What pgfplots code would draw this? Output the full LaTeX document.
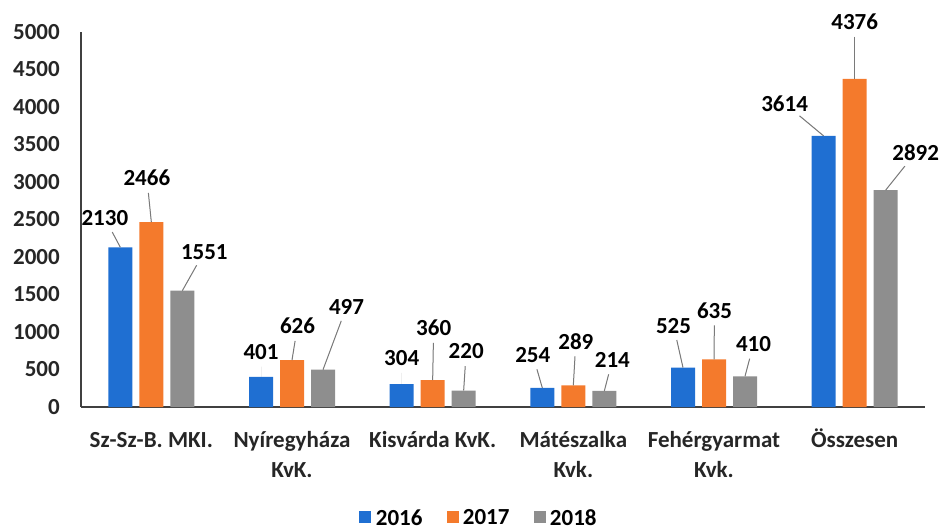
\documentclass[border=0pt]{standalone}
\usepackage{fontspec}
\setmainfont{Carlito}
\usepackage{pgfplots}
\pgfplotsset{compat=1.18}
\usepackage{pgfplotstable}
\definecolor{cblue}{HTML}{1F6FD2}
\definecolor{corange}{HTML}{F47A2C}
\definecolor{cgray}{HTML}{8E8E8E}
\definecolor{cline}{HTML}{7A7A7A}
\definecolor{caxis}{HTML}{404040}
\newcommand\lbl{\fontsize{23}{30}\selectfont\bfseries}

\pgfplotstableread{
x y ang dist ln
0 2130 118.1 32.9 1
1 401 90 25 0
2 304 90 26 0
3 254 106.1 34.3 1
4 525 102.7 43.1 1
5 3614 140.2 50.8 1
}\dataA
\pgfplotstableread{
x y ang dist ln
0 2466 95.8 44.2 1
1 626 80.8 34.4 1
2 360 88.9 52.0 1
3 289 86.7 44.1 1
4 635 89.4 49.0 1
5 4376 90 57 1
}\dataB
\pgfplotstableread{
x y ang dist ln
0 1551 60.6 44.8 1
1 497 69.5 67.2 1
2 220 86.3 39.1 1
3 214 75.5 32.0 1
4 410 75.1 33.1 1
5 2892 51.3 48.0 1
}\dataC

\pgfplotsset{
  labelled/.style={
    nodes near coords={},
    visualization depends on={\thisrow{ang}\as\pang},
    visualization depends on={\thisrow{dist}\as\pdist},
    visualization depends on={\thisrow{ln}\as\plno},
    visualization depends on={\thisrow{y}\as\pval},
    every node near coord/.append style={inner sep=0pt, outer sep=0pt, minimum size=0pt, anchor=center,
      pin={[pin distance=\pdist pt, anchor=center, inner sep=0pt, outer sep=0pt, font=\lbl, text=black,
            pin edge={draw=cline, line width=1pt, shorten >=7pt, draw opacity=\plno}]\pang:\pgfmathprintnumber[fixed,precision=0]{\pval}}},
  },
}

\begin{document}
\begin{tikzpicture}
\begin{axis}[
  name=ax, at={(0,0)}, anchor=south west,
  scale only axis, width=844pt, height=375pt,
  xmin=-0.5, xmax=5.5, ymin=0, ymax=5000,
  ybar, bar width=24pt,
  axis lines*=left,
  axis line style={draw=caxis, line width=1.2pt},
  major tick length=0pt,
  clip=false,
  ytick={0,500,...,5000},
  xtick={0,1,2,3,4,5},
  xticklabels={{\strut Sz-Sz-B. MKI.},{\strut Nyíregyháza\\KvK.},{\strut Kisvárda KvK.},{\strut Mátészalka\\Kvk.},{\strut Fehérgyarmat\\Kvk.},{\strut Összesen}},
  /pgf/number format/assume math mode=true,
  /pgf/number format/set thousands separator={},
  yticklabel style={font=\lbl, anchor=east, inner sep=0pt, xshift=-21pt, text=black!85},
  xticklabel style={font=\lbl, anchor=north, inner sep=0pt, yshift=-19pt, align=center, text=black!85},
  legend style={at={(0.4716,-0.296)}, anchor=center, draw=none, font=\lbl, legend columns=3,
    /tikz/every even column/.append style={column sep=22pt},
    /tikz/every odd column/.append style={column sep=3pt},
    nodes={inner sep=2pt}},
]
\addlegendimage{legend image code/.code={\fill[cblue] (0pt,-4pt) rectangle (11pt,7pt);}}
\addlegendimage{legend image code/.code={\fill[corange] (0pt,-4pt) rectangle (11pt,7pt);}}
\addlegendimage{legend image code/.code={\fill[cgray] (0pt,-4pt) rectangle (11pt,7pt);}}
\legend{2016,2017,2018}
\addplot[fill=cblue, draw=none, bar shift=-31pt, labelled] table[x=x,y=y] {\dataA};
\addplot[fill=corange, draw=none, bar shift=0pt, labelled] table[x=x,y=y] {\dataB};
\addplot[fill=cgray, draw=none, bar shift=31pt, labelled] table[x=x,y=y] {\dataC};
\end{axis}
\pgfresetboundingbox
\path ([shift={(-81pt,-124pt)}]ax.south west) rectangle ([shift={(862pt,407pt)}]ax.south west);
\end{tikzpicture}
\end{document}
